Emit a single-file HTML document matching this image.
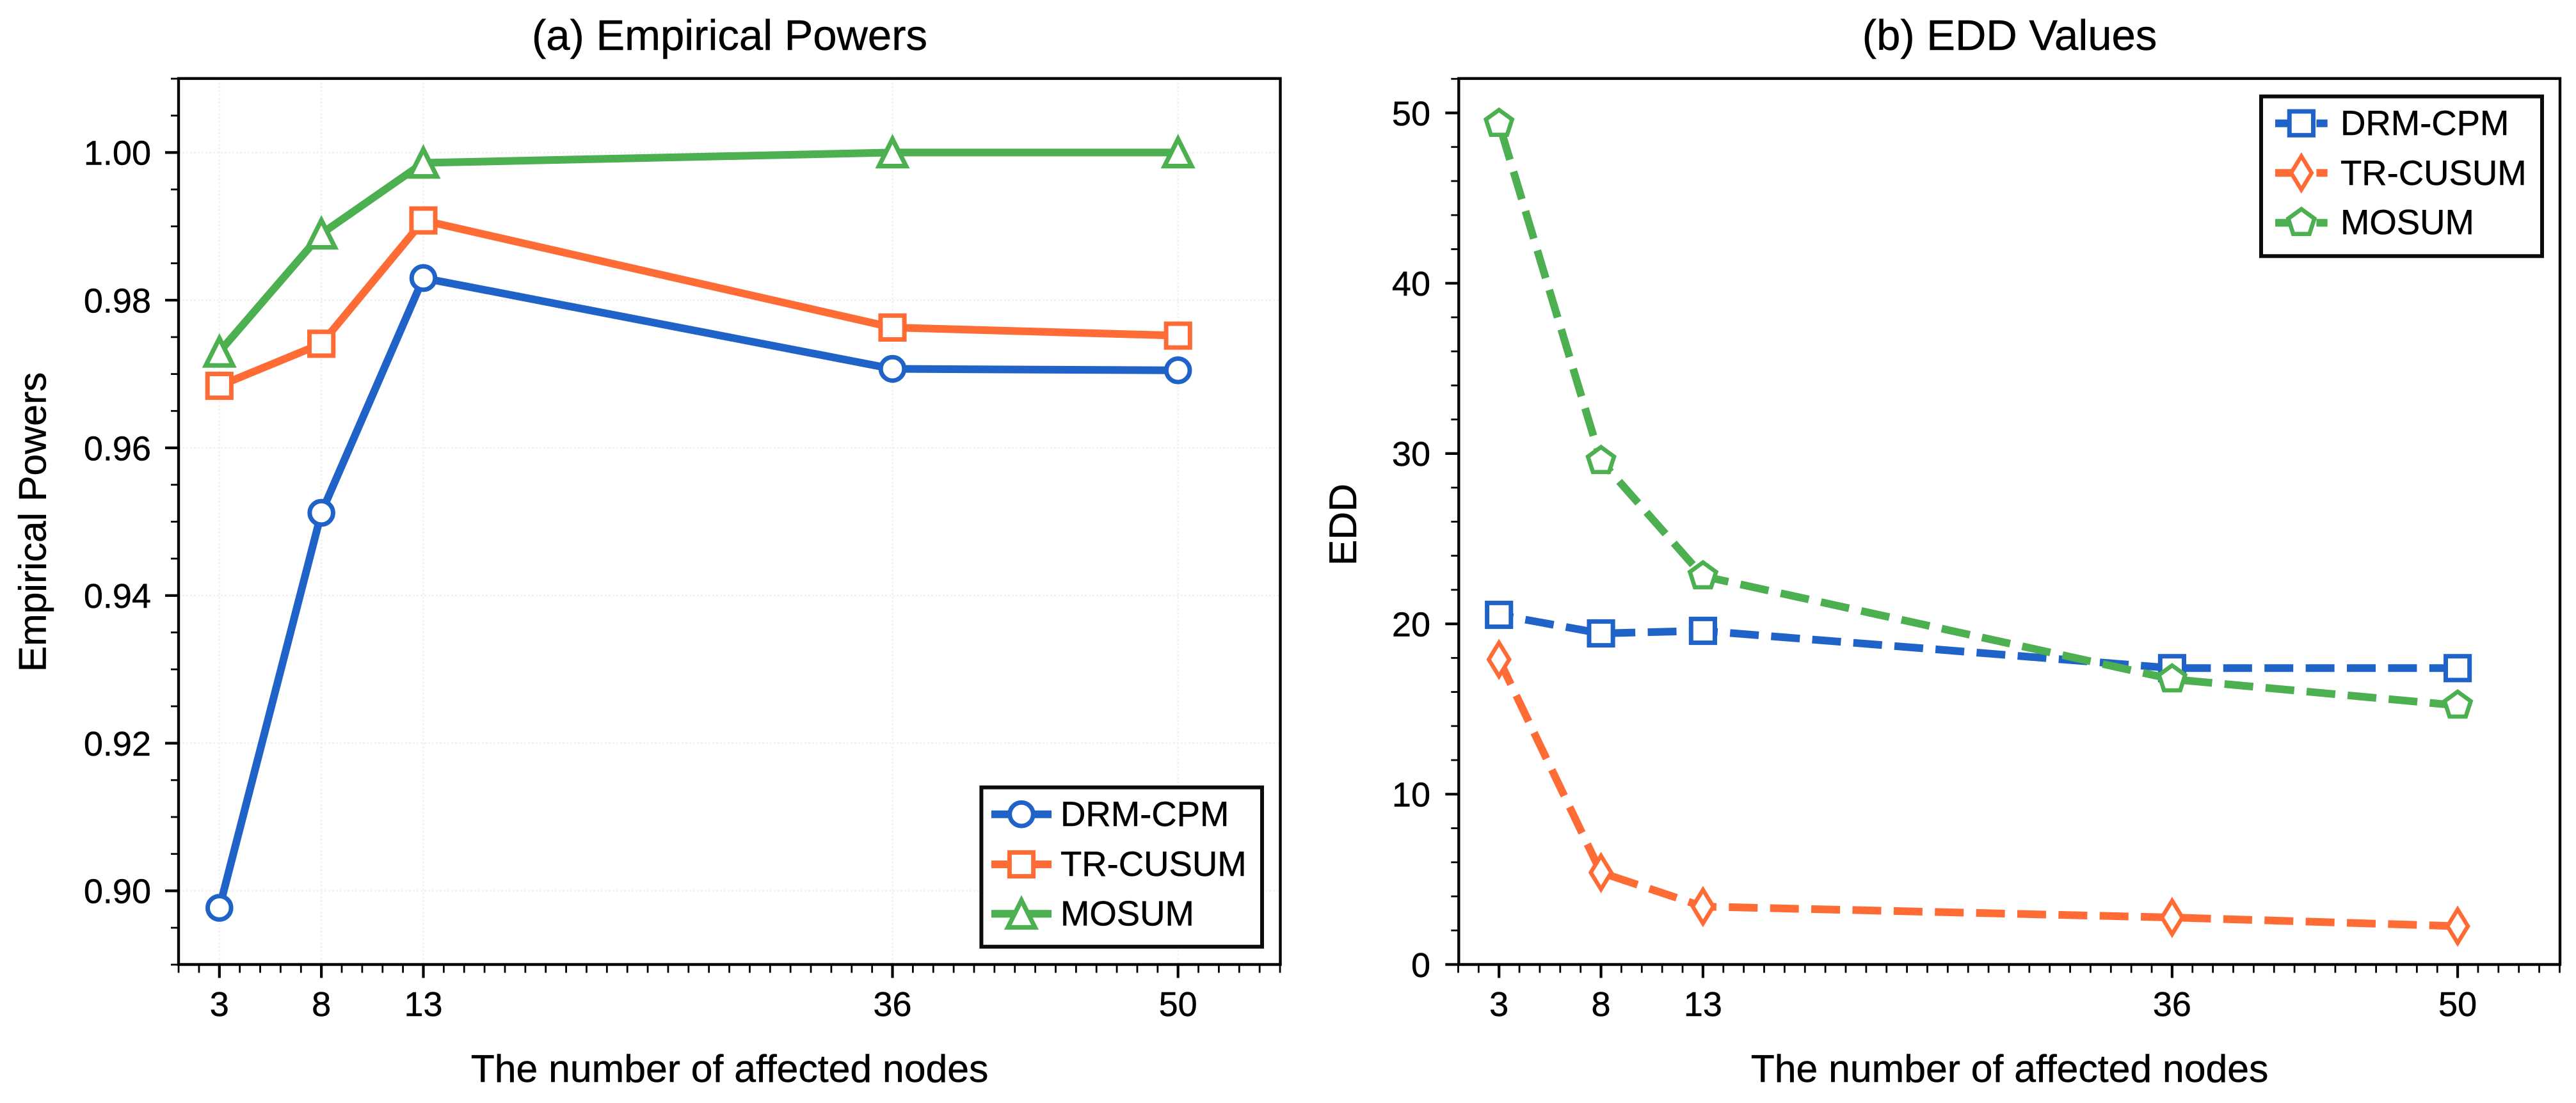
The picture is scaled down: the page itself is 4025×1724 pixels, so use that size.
<!DOCTYPE html>
<html lang="en">
<head>
<meta charset="utf-8">
<title>Empirical Powers and EDD Values</title>
<style>
  html, body { margin: 0; padding: 0; background: #fff; }
  svg { display: block; }
  text { font-family: "Liberation Sans", Arial, sans-serif; fill: #000; stroke: #000; stroke-width: 0.5px; }
</style>
</head>
<body>
<svg id="figure" xmlns="http://www.w3.org/2000/svg" width="4025" height="1724" viewBox="0 0 4025 1724">
  <rect x="0" y="0" width="4025" height="1724" fill="#fff"/>

  <g id="panel-a">
    <g id="a-grid"></g>
    <g id="a-series"></g>
    <g id="a-axes"></g>
    <text x="1140" y="78" font-size="67" text-anchor="middle">(a) Empirical Powers</text>
    <text x="1140" y="1691" font-size="60.7" text-anchor="middle">The number of affected nodes</text>
    <text x="0" y="0" font-size="60.7" text-anchor="middle" transform="translate(71.5 816) rotate(-90)">Empirical Powers</text>
    <g id="a-legend">
      <rect x="1533.4" y="1230.7" width="438.6" height="249" fill="#fff" stroke="#0c0c0c" stroke-width="6"/>
      <g id="a-legend-marks"></g>
      <text x="1657" y="1291" font-size="54.5">DRM-CPM</text>
      <text x="1657" y="1369" font-size="54.5">TR-CUSUM</text>
      <text x="1657" y="1446.5" font-size="54.5">MOSUM</text>
    </g>
  </g>

  <g id="panel-b">
    <g id="b-series"></g>
    <g id="b-axes"></g>
    <text x="3140" y="78" font-size="67" text-anchor="middle">(b) EDD Values</text>
    <text x="3140" y="1691" font-size="60.7" text-anchor="middle">The number of affected nodes</text>
    <text x="0" y="0" font-size="60.7" text-anchor="middle" transform="translate(2119 820) rotate(-90)">EDD</text>
    <g id="b-legend">
      <rect x="3533" y="150.7" width="439" height="249.6" fill="#fff" stroke="#0c0c0c" stroke-width="6"/>
      <g id="b-legend-marks"></g>
      <text x="3657" y="211" font-size="54.5">DRM-CPM</text>
      <text x="3657" y="289" font-size="54.5">TR-CUSUM</text>
      <text x="3657" y="366" font-size="54.5">MOSUM</text>
    </g>
  </g>
</svg>

<script>
// ---- chart data ----
const categories = [3, 8, 13, 36, 50];

const powerDrmCpm  = [0.8977, 0.9512, 0.9830, 0.9707, 0.9705];
const powerTrCusum = [0.9684, 0.9741, 0.9908, 0.9763, 0.9752];
const powerMosum   = [0.9730, 0.9890, 0.9986, 1.0000, 1.0000];

const eddDrmCpm  = [20.53, 19.44, 19.59, 17.40, 17.40];
const eddTrCusum = [17.91, 5.40, 3.40, 2.76, 2.25];
const eddMosum   = [49.37, 29.57, 22.80, 16.75, 15.21];

const powerTickLabels = ["0.90", "0.92", "0.94", "0.96", "0.98", "1.00"];
const eddTickLabels = ["0", "10", "20", "30", "40", "50"];
const xTickLabels = ["3", "8", "13", "36", "50"];

// ---- axis functions ----
const xScaleA = function (v) { return 342.8 + (v - 3) * 31.87; };
const yScaleA = function (v) { return 238.4 + (1 - v) * 11540; };
const xScaleB = function (v) { return 2342.2 + (v - 3) * 31.87; };
const yScaleB = function (v) { return 1507.5 - v * 26.62; };

const NS = "http://www.w3.org/2000/svg";
const BLUE = "#1f63c9", ORANGE = "#ff6b35", GREEN = "#4caf50";
const LINE_WIDTH = 12;
const DASH = "45 19.4";

function el(tag, attrs, parent) {
  const node = document.createElementNS(NS, tag);
  for (const k in attrs) node.setAttribute(k, attrs[k]);
  parent.appendChild(node);
  return node;
}

function markerShape(kind, cx, cy, color, parent, name) {
  const f = function (p) { return p.map(function (q) { return (cx + q[0]).toFixed(2) + "," + (cy + q[1]).toFixed(2); }).join(" "); };
  const base = { fill: "#fff", stroke: color, "stroke-linejoin": "miter", "stroke-miterlimit": 10 };
  let node;
  if (kind === "circle") {
    node = el("circle", Object.assign({}, base, { cx: cx, cy: cy, r: 18.3, "stroke-width": 7 }), parent);
  } else if (kind === "square") {
    node = el("rect", Object.assign({}, base, { x: cx - 18.6, y: cy - 18.6, width: 37.2, height: 37.2, "stroke-width": 7 }), parent);
  } else if (kind === "triangle") {
    const s = 21.2;
    node = el("polygon", Object.assign({}, base, { points: f([[0, -s], [s, s], [-s, s]]), "stroke-width": 7.2 }), parent);
  } else if (kind === "diamond") {
    node = el("polygon", Object.assign({}, base, { points: f([[0, -26.2], [16, 0], [0, 26.2], [-16, 0]]), "stroke-width": 6.4 }), parent);
  } else {
    const r = 21.5, pts = [];
    for (let i = 0; i < 5; i++) {
      const a = -Math.PI / 2 + i * 2 * Math.PI / 5;
      pts.push([r * Math.cos(a), r * Math.sin(a)]);
    }
    node = el("polygon", Object.assign({}, base, { points: f(pts), "stroke-width": 6.6 }), parent);
  }
  
  
  return node;
}

function drawSeries(parent, name, values, xs, ys, color, kind, dashed, phase) {
  const g = el("g", {}, parent);
  
  
  const pts = values.map(function (v, i) { return xs(categories[i]).toFixed(2) + "," + ys(v).toFixed(2); }).join(" ");
  const attrs = { points: pts, fill: "none", stroke: color, "stroke-width": LINE_WIDTH, "stroke-linejoin": "round" };
  if (dashed) { attrs["stroke-dasharray"] = DASH; attrs["stroke-dashoffset"] = phase; }
  const line = el("polyline", attrs, g);
  
  
  values.forEach(function (v, i) {
    markerShape(kind, xs(categories[i]), ys(v), color, g, name + '-point-' + categories[i]);
  });
}

function drawLegendHandle(parent, name, x1, x2, y, color, kind, dashed) {
  const g = el("g", {}, parent);
  
  
  const attrs = { x1: x1, x2: x2, y1: y, y2: y, stroke: color, "stroke-width": LINE_WIDTH };
  if (dashed) attrs["stroke-dasharray"] = DASH;
  const line = el("line", attrs, g);
  
  
  markerShape(kind, (x1 + x2) / 2, y, color, g, name + '-marker');
}

function drawAxes(parent, xs, ys, yMajors, yLabels, yMinorStep, yMin, yMax, xLeft, xRight, yTop, yBottom, labelX) {
  const tick = function (x1, y1, x2, y2, w, name) {
    const t = el("line", { x1: x1, y1: y1, x2: x2, y2: y2, stroke: "#000", "stroke-width": w }, parent);
    
    
  };
  // x minor and major ticks
  for (let v = 1; v <= 55; v++) {
    if (categories.indexOf(v) < 0) tick(xs(v), yBottom, xs(v), yBottom + 13, 2.8, 'x-minor-tick');
  }
  categories.forEach(function (c, i) {
    tick(xs(c), yBottom, xs(c), yBottom + 21, 4.2, 'x-major-tick');
    const t = el("text", { x: xs(c), y: 1588, "font-size": 54, "text-anchor": "middle" }, parent);
    t.textContent = xTickLabels[i];
    
    
  });
  // y minor ticks
  const n = Math.round((yMax - yMin) / yMinorStep);
  for (let i = 0; i <= n; i++) {
    const v = yMin + i * yMinorStep;
    const isMajor = yMajors.some(function (m) { return Math.abs(m - v) < yMinorStep / 10; });
    if (!isMajor) tick(xLeft, ys(v), xLeft - 12, ys(v), 2.8, 'y-minor-tick');
  }
  yMajors.forEach(function (m, i) {
    tick(xLeft, ys(m), xLeft - 21, ys(m), 4.2, 'y-major-tick');
    const t = el("text", { x: labelX, y: ys(m) + 19.3, "font-size": 54, "text-anchor": "end" }, parent);
    t.textContent = yLabels[i];
    
    
  });
  const frame = el("rect", { x: xLeft, y: yTop, width: xRight - xLeft, height: yBottom - yTop, fill: "none", stroke: "#000", "stroke-width": 4.4 }, parent);
  
  
}

// ---- panel (a) ----
const aGrid = document.getElementById("a-grid");
const aMajors = powerTickLabels.map(Number);
aMajors.forEach(function (m) {
  const g = el("line", { x1: 279, x2: 2000.5, y1: yScaleA(m), y2: yScaleA(m), stroke: "#f1f1f1", "stroke-width": 2.6, "stroke-dasharray": "3 3" }, aGrid);
  
  
});
categories.forEach(function (c) {
  const g = el("line", { x1: xScaleA(c), x2: xScaleA(c), y1: 122.7, y2: 1507.5, stroke: "#f1f1f1", "stroke-width": 2.6, "stroke-dasharray": "3 3" }, aGrid);
  
  
});

const aSeries = document.getElementById("a-series");
drawSeries(aSeries, 'power-drm-cpm', powerDrmCpm, xScaleA, yScaleA, BLUE, "circle", false, 0);
drawSeries(aSeries, 'power-tr-cusum', powerTrCusum, xScaleA, yScaleA, ORANGE, "square", false, 0);
drawSeries(aSeries, 'power-mosum', powerMosum, xScaleA, yScaleA, GREEN, "triangle", false, 0);

drawAxes(document.getElementById("a-axes"), xScaleA, yScaleA, aMajors, powerTickLabels, 0.005, 0.89, 1.01, 279, 2000.5, 122.7, 1507.5, 236);

const aMarks = document.getElementById("a-legend-marks");
drawLegendHandle(aMarks, 'legend-handle-drm-cpm', 1549, 1643, 1272.7, BLUE, "circle", false);
drawLegendHandle(aMarks, 'legend-handle-tr-cusum', 1549, 1643, 1351, ORANGE, "square", false);
drawLegendHandle(aMarks, 'legend-handle-mosum', 1549, 1643, 1428.3, GREEN, "triangle", false);

// ---- panel (b) ----
const bSeries = document.getElementById("b-series");
drawSeries(bSeries, 'edd-drm-cpm', eddDrmCpm, xScaleB, yScaleB, BLUE, "square", true, 22.6);
drawSeries(bSeries, 'edd-tr-cusum', eddTrCusum, xScaleB, yScaleB, ORANGE, "diamond", true, 2);
drawSeries(bSeries, 'edd-mosum', eddMosum, xScaleB, yScaleB, GREEN, "pentagon", true, 50.5);

drawAxes(document.getElementById("b-axes"), xScaleB, yScaleB, eddTickLabels.map(Number), eddTickLabels, 2, 0, 52, 2279.3, 4000, 122.7, 1507.5, 2235);

const bMarks = document.getElementById("b-legend-marks");
drawLegendHandle(bMarks, 'legend-handle-drm-cpm-edd', 3555, 3636.7, 192.7, BLUE, "square", true);
drawLegendHandle(bMarks, 'legend-handle-tr-cusum-edd', 3555, 3636.7, 270.3, ORANGE, "diamond", true);
drawLegendHandle(bMarks, 'legend-handle-mosum-edd', 3555, 3636.7, 348.3, GREEN, "pentagon", true);
</script>
</body>
</html>
